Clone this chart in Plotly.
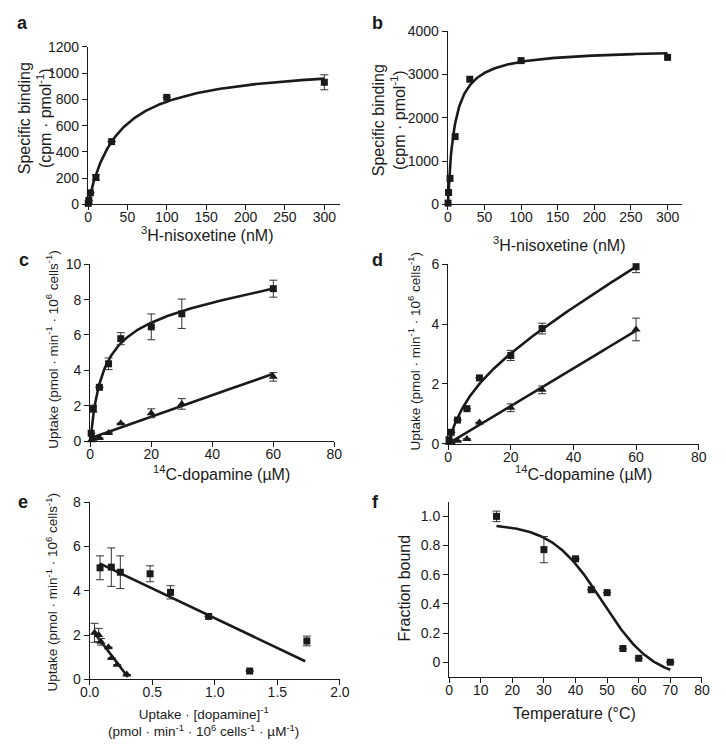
import numpy as np
import plotly.graph_objects as go

W, H = 726, 749
OFF = 8  # page body margin, figure is drawn 8px in from the window corner
FONT = "Liberation Sans, Arial, sans-serif"
INK = "#1a1a1a"

# ---- panel a: 3H-nisoxetine saturation binding
A_CONC = [0.3, 1, 3, 10, 30, 100, 300]
A_BOUND = [8, 30, 88, 205, 478, 815, 930]
A_ERR = [None, None, None, 20, None, None, 57]
A_BMAX, A_KD = 1078, 37.7

# ---- panel b
B_CONC = [0.3, 1, 3, 10, 30, 100, 300]
B_BOUND = [30, 275, 600, 1565, 2890, 3320, 3395]
B_BMAX, B_KD = 3597, 9.24

# ---- panel c: 14C-dopamine uptake
C_CONC = [0.3, 1, 3, 6, 10, 20, 30, 60]
C_SQ = [0.44, 1.83, 3.04, 4.37, 5.79, 6.46, 7.2, 8.62]
C_SQ_ERR = [None, 0.2, None, 0.33, 0.34, 0.73, 0.83, 0.48]
C_TRI = [0.04, 0.13, 0.17, 0.46, 1.0, 1.57, 2.1, 3.63]
C_TRI_ERR = [None, None, None, None, None, 0.25, 0.3, 0.24]
C_SQ_FIT = dict(vmax=7.34, km=4.0, lin=0.029)
C_TRI_FIT = dict(b0=0.15, slope=0.061)

# ---- panel d
D_CONC = [0.3, 1, 3, 6, 10, 20, 30, 60]
D_SQ = [0.13, 0.38, 0.79, 1.17, 2.2, 2.95, 3.85, 5.92]
D_SQ_ERR = [None, None, None, None, None, 0.17, 0.18, 0.2]
D_TRI = [0.03, 0.05, 0.1, 0.16, 0.71, 1.2, 1.8, 3.82]
D_TRI_ERR = [None, None, None, None, None, 0.13, 0.13, 0.38]
D_SQ_FIT = dict(vmax=2.5, km=8.1, lin=0.062)
D_TRI_FIT = dict(b0=0.0, slope=0.063)

# ---- panel e: Eadie-Hofstee
E_SQ_X = [0.083, 0.173, 0.245, 0.483, 0.646, 0.951, 1.279, 1.736]
E_SQ_Y = [5.04, 5.07, 4.84, 4.77, 3.93, 2.84, 0.37, 1.73]
E_SQ_ERR = [0.54, 0.87, 0.74, 0.36, 0.3, None, None, 0.22]
E_TRI_X = [0.039, 0.072, 0.09, 0.15, 0.176, 0.22, 0.297]
E_TRI_Y = [2.10, 2.0, 1.69, 1.45, 0.96, 0.65, 0.21]
E_TRI_ERR = [0.43, 0.3, 0.15, None, None, None, None]
E_SQ_LINE = dict(b0=5.45, slope=-2.69, x0=0.078, x1=1.723)
E_TRI_LINE = dict(b0=2.385, slope=-7.49, x0=0.034, x1=0.305)

# ---- panel f: thermal stability
F_TEMP = [15, 30, 40, 45, 50, 55, 60, 70]
F_FRAC = [1.0, 0.772, 0.709, 0.497, 0.477, 0.094, 0.027, 0.0]
F_ERR = [0.036, 0.09, None, None, None, None, None, None]
F_FIT = dict(top=0.95, bottom=-0.12, t50=48.5, slope=8.0)


def mm(x, vmax, km, lin=0.0):
    return vmax * x / (km + x) + lin * x


fig = go.Figure()


def px_dom(x0, x1):
    return [(x0 - OFF) / W, (x1 - OFF) / W]


def py_dom(y_bottom, y_top):
    return [1 - (y_bottom - OFF) / H, 1 - (y_top - OFF) / H]


def add_axes(i, xdom, ydom, xr, yr, xt, yt, ytext=None, xfmt=None):
    sx = "" if i == 1 else str(i)
    common = dict(
        showline=True, linecolor=INK, linewidth=1.2, ticks="outside",
        ticklen=5, tickwidth=1.2, tickcolor=INK, showgrid=False, zeroline=False,
        tickfont=dict(family=FONT, size=14, color=INK), fixedrange=True,
    )
    fig.layout["xaxis" + sx] = dict(
        common, domain=xdom, range=xr, tickvals=xt, anchor="y" + sx, tickformat=xfmt,
        ticklabelstandoff=-5,
    )
    fig.layout["yaxis" + sx] = dict(
        common, domain=ydom, range=yr, tickvals=yt, anchor="x" + sx, ticktext=ytext,
    )


def pts(i, x, y, err, symbol, size):
    sx = "" if i == 1 else str(i)
    fig.add_trace(go.Scatter(
        x=x, y=y, mode="markers", xaxis="x" + sx, yaxis="y" + sx,
        marker=dict(symbol=symbol, size=size, color=INK),
        error_y=dict(type="data", array=err, color="#333", thickness=1, width=4)
        if err is not None else None,
        cliponaxis=False, showlegend=False,
    ))


def curve(i, x, y):
    sx = "" if i == 1 else str(i)
    fig.add_trace(go.Scatter(
        x=x, y=y, mode="lines", xaxis="x" + sx, yaxis="y" + sx,
        line=dict(color=INK, width=2.6), showlegend=False, cliponaxis=False,
    ))


# a
xs = np.linspace(0, 300, 300)
curve(1, xs, mm(xs, A_BMAX, A_KD))
pts(1, A_CONC, A_BOUND, A_ERR, "square", 7)
add_axes(1, px_dom(80, 80 + 320 * 243 / 300), py_dom(200.5, 39.5),
         [0, 320], [0, 1200], list(range(0, 301, 50)), list(range(0, 1201, 200)))

# b
curve(2, xs, mm(xs, B_BMAX, B_KD))
pts(2, B_CONC, B_BOUND, None, "square", 7)
add_axes(2, px_dom(450, 450 + 320 * 226 / 300), py_dom(200.5, 23.5),
         [0, 320], [0, 4000], list(range(0, 301, 50)), list(range(0, 4001, 1000)))

# c
xc = np.linspace(0, 60, 200)
curve(3, xc, mm(xc, **C_SQ_FIT))
curve(3, xc, C_TRI_FIT["b0"] + C_TRI_FIT["slope"] * xc)
pts(3, C_CONC, C_SQ, C_SQ_ERR, "square", 7)
pts(3, C_CONC, C_TRI, C_TRI_ERR, "triangle-up", 8)
add_axes(3, px_dom(82.3, 333.3), py_dom(442.3, 261.7),
         [0, 80], [0, 10], list(range(0, 81, 20)), list(range(0, 11, 2)))

# d
curve(4, xc, mm(xc, **D_SQ_FIT))
curve(4, xc, D_TRI_FIT["b0"] + D_TRI_FIT["slope"] * xc)
pts(4, D_CONC, D_SQ, D_SQ_ERR, "square", 7)
pts(4, D_CONC, D_TRI, D_TRI_ERR, "triangle-up", 8)
add_axes(4, px_dom(450.3, 708), py_dom(445, 261.7),
         [0, 80], [0, 6], list(range(0, 81, 20)), [0, 2, 4, 6])

# e
for ln in (E_SQ_LINE, E_TRI_LINE):
    xe = np.array([ln["x0"], ln["x1"]])
    curve(5, xe, ln["b0"] + ln["slope"] * xe)
pts(5, E_SQ_X, E_SQ_Y, E_SQ_ERR, "square", 7)
pts(5, E_TRI_X, E_TRI_Y, E_TRI_ERR, "triangle-up", 8)
add_axes(5, px_dom(81.7, 339), py_dom(685.7, 505),
         [0, 2.0], [0, 8], [0, 0.5, 1.0, 1.5, 2.0], [0, 2, 4, 6, 8], xfmt=".1f")

# f
xf = np.linspace(15, 70, 200)
ff = F_FIT["bottom"] + (F_FIT["top"] - F_FIT["bottom"]) / (1 + np.exp((xf - F_FIT["t50"]) / F_FIT["slope"]))
curve(6, xf, ff)
pts(6, F_TEMP, F_FRAC, F_ERR, "square", 7)
add_axes(6, px_dom(451.3, 711.3), py_dom(683.2, 504.4),
         [0, 80], [-0.1, 1.1], list(range(0, 81, 10)), [0, 0.2, 0.4, 0.6, 0.8, 1.0],
         ytext=["0", "0.2", "0.4", "0.6", "0.8", "1.0"])


def label(text, x, y, size=16, angle=0, bold=False):
    fig.add_annotation(
        text=f"<b>{text}</b>" if bold else text,
        x=(x - OFF) / W, y=1 - (y - OFF) / H,
        xref="paper", yref="paper", showarrow=False, textangle=angle,
        xanchor="center", yanchor="middle",
        font=dict(family=FONT, size=size, color=INK),
    )


# panel letters
for t, x, y in [("a", 13, 15), ("b", 378, 15), ("c", 14, 257),
                ("d", 378, 257), ("e", 13, 505), ("f", 376, 505)]:
    label(t, x, y, size=18, bold=True)

# axis titles
label("Specific binding<br>(cpm · pmol<sup>-1</sup>)", 25, 113, angle=-90)
label("<sup>3</sup>H-nisoxetine (nM)", 203, 231)
label("Specific binding<br>(cpm · pmol<sup>-1</sup>)", 389, 115, angle=-90)
label("<sup>3</sup>H-nisoxetine (nM)", 565, 241)

UPT = "Uptake (pmol · min<sup>-1</sup> · 10<sup>6</sup> cells<sup>-1</sup>)"
label(UPT, 43, 349, size=13.5, angle=-90)
label("<sup>14</sup>C-dopamine (µM)", 217, 475)
label(UPT, 415, 351, size=13.5, angle=-90)
label("<sup>14</sup>C-dopamine (µM)", 590, 475)

label(UPT, 43, 597, size=13.5, angle=-90)
label("Uptake · [dopamine]<sup>-1</sup><br>"
      "(pmol · min<sup>-1</sup> · 10<sup>6</sup> cells<sup>-1</sup> · µM<sup>-1</sup>)",
      199, 729, size=13.5)
label("Fraction bound", 405, 593, angle=-90)
label("Temperature (°C)", 580, 721)

fig.update_layout(
    width=W, height=H, margin=dict(l=0, r=0, t=0, b=0),
    paper_bgcolor="white", plot_bgcolor="white",
    font=dict(family=FONT, color=INK), showlegend=False,
)

fig.write_html("out.html")
